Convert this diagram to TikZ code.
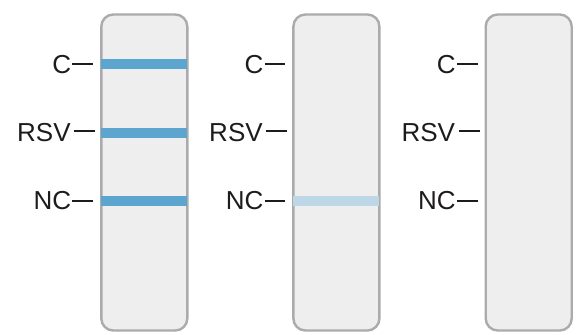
\documentclass[tikz,border=0pt]{standalone}
\usepackage{fontspec}
\setmainfont{Liberation Sans}
\usetikzlibrary{calc}
\definecolor{stripfill}{HTML}{EEEEEE}
\definecolor{stripdraw}{HTML}{ABABAE}
\definecolor{bandblue}{HTML}{5CA5CF}
\definecolor{bandlight}{HTML}{BDD7E6}
\definecolor{ink}{HTML}{1E1B1C}
\begin{document}
\begin{tikzpicture}[x=1pt,y=-1pt,
  strip/.style={draw=stripdraw,fill=stripfill,line width=2.4pt,rounded corners=12pt,minimum width=86pt,minimum height=316pt,inner sep=0pt},
  lbl/.style={font=\fontsize{26}{26}\selectfont,text=ink,inner sep=0pt,anchor=base east},
  dashline/.style={draw=ink,line width=2pt},
  band/.style={line width=10pt}]
\useasboundingbox (0,0) rectangle (577,334);
\foreach \i/\cx in {1/144.3,2/336.4,3/528.7}{
  \node[strip] (s\i) at (\cx,172.5) {};
  % dash coordinates
  \coordinate (cA\i) at ($(s\i.west |- 0,64)+(-27.7,0)$);
  \coordinate (cB\i) at ($(s\i.west |- 0,64)+(-7,0)$);
  \coordinate (rA\i) at ($(s\i.west |- 0,131)+(-26,0)$);
  \coordinate (rB\i) at ($(s\i.west |- 0,131)+(-5,0)$);
  \coordinate (nA\i) at ($(s\i.west |- 0,200.5)+(-27.7,0)$);
  \coordinate (nB\i) at ($(s\i.west |- 0,200.5)+(-7,0)$);
  \node[lbl] (lc\i) at ($(cA\i)+(-1,9.7)$) {C};
  \node[lbl] (lr\i) at ($(rA\i)+(-3.3,10.2)$) {RSV};
  \node[lbl] (ln\i) at ($(nA\i)+(-1,9.3)$) {NC};
  \draw[dashline] (cA\i) -- (cB\i);
  \draw[dashline] (rA\i) -- (rB\i);
  \draw[dashline] (nA\i) -- (nB\i);
  % band end points
  \coordinate (bcL\i) at ($(s\i.west |- 0,64)+(1.2,0)$);
  \coordinate (bcR\i) at ($(s\i.east |- 0,64)+(-1.2,0)$);
  \coordinate (brL\i) at ($(s\i.west |- 0,133)+(1.2,0)$);
  \coordinate (brR\i) at ($(s\i.east |- 0,133)+(-1.2,0)$);
  \coordinate (bnL\i) at ($(s\i.west |- 0,201)+(1.2,0)$);
  \coordinate (bnR\i) at ($(s\i.east |- 0,201)+(-1.2,0)$);
}
\draw[band,bandblue] (bcL1) -- (bcR1);
\draw[band,bandblue] (brL1) -- (brR1);
\draw[band,bandblue] (bnL1) -- (bnR1);
\draw[band,bandlight] (bnL2) -- (bnR2);
\end{tikzpicture}
\end{document}
